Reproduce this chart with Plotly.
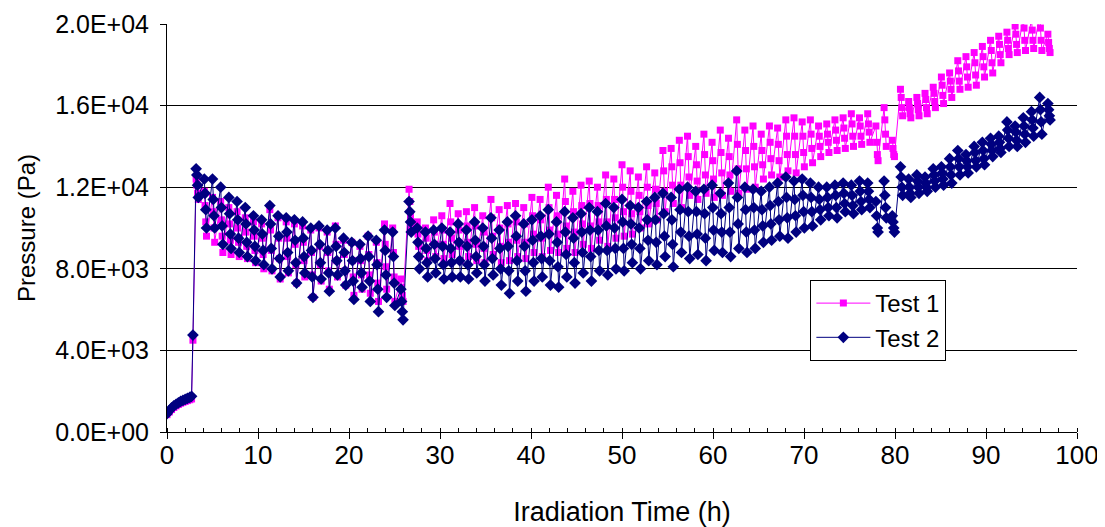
import numpy as np
import plotly.graph_objects as go

# start-up phase (h, kPa)
startup_t = [0.0, 0.25, 0.5, 0.75, 1.0, 1.25, 1.5, 1.75, 2.0, 2.25, 2.5, 2.7, 2.85]
startup_test1 = [0.85, 0.98, 1.10, 1.20, 1.28, 1.35, 1.41, 1.46, 1.50, 1.54, 1.58, 1.62, 4.5]
startup_test2 = [0.90, 1.05, 1.18, 1.28, 1.36, 1.43, 1.50, 1.55, 1.60, 1.65, 1.70, 1.75, 4.75]

# cycling phase: one pressure cycle every 0.9 h, 4 readings per cycle (kPa)
cycle_start = 3.2
cycle_len = 0.9
reading_offsets = [0.0, 0.08, 0.16, 0.24]

test1_cycles = [
    12.4, 12.1, 11.7, 11.4,  11.8, 11.1, 10.3, 9.6,  11.5, 10.8, 10.0, 9.3,
    11.3, 10.4, 9.6, 8.8,  11.0, 10.2, 9.4, 8.7,  10.8, 10.0, 9.3, 8.6,
    10.5, 9.8, 9.1, 8.5,  10.3, 9.6, 8.9, 8.3,  10.2, 9.5, 8.7, 8.0,
    10.9, 9.9, 8.9, 7.9,  10.5, 9.5, 8.5, 7.5,  10.3, 9.5, 8.6, 7.8,
    10.2, 9.2, 8.2, 7.3,  10.1, 9.3, 8.4, 7.6,  9.9, 8.8, 7.7, 6.6,
    10.0, 9.1, 8.2, 7.4,  9.8, 8.8, 7.9, 7.0,  10.1, 9.2, 8.4, 7.6,
    9.4, 8.7, 7.9, 7.2,  9.3, 8.4, 7.6, 6.7,  9.1, 8.4, 7.7, 7.0,
    9.6, 8.7, 7.7, 6.8,  9.3, 8.3, 7.3, 6.4,  10.2, 9.2, 8.1, 7.0,
    10.0, 8.8, 7.6, 6.4,  7.5, 7.1, 6.7, 6.4,  11.9, 11.3, 10.6, 10.0,
    10.3, 9.7, 9.1, 8.6,  10.0, 9.5, 8.9, 8.4,  10.4, 9.8, 9.2, 8.6,
    10.6, 9.9, 9.2, 8.5,  11.2, 10.3, 9.5, 8.7,  10.7, 9.9, 9.1, 8.4,
    10.8, 10.1, 9.3, 8.6,  11.0, 10.1, 9.2, 8.4,  10.6, 9.8, 9.0, 8.3,
    11.4, 10.5, 9.6, 8.7,  10.9, 10.0, 9.1, 8.3,  11.1, 10.2, 9.3, 8.4,
    11.2, 10.3, 9.4, 8.6,  11.0, 10.2, 9.3, 8.5,  11.5, 10.6, 9.7, 8.8,
    11.4, 10.4, 9.5, 8.6,  12.0, 11.0, 9.9, 8.9,  11.6, 10.6, 9.7, 8.8,
    12.4, 11.3, 10.1, 9.0,  11.8, 10.8, 9.8, 8.8,  12.1, 11.1, 10.2, 9.2,
    12.3, 11.2, 10.1, 9.0,  12.0, 11.1, 10.3, 9.4,  12.6, 11.4, 10.3, 9.1,
    12.4, 11.4, 10.5, 9.5,  13.1, 12.0, 10.8, 9.6,  12.8, 11.8, 10.7, 9.7,
    12.5, 11.6, 10.8, 10.0,  13.0, 12.0, 11.1, 10.2,  12.7, 11.9, 11.2, 10.4,
    13.8, 12.8, 11.8, 10.8,  13.9, 13.0, 12.1, 11.2,  14.3, 13.2, 12.1, 11.0,
    14.5, 13.5, 12.5, 11.6,  14.0, 13.1, 12.3, 11.4,  14.6, 13.6, 12.6, 11.7,
    14.2, 13.3, 12.4, 11.5,  14.8, 13.7, 12.7, 11.6,  14.4, 13.5, 12.6, 11.8,
    15.3, 14.1, 12.9, 11.7,  14.8, 13.8, 12.9, 11.9,  15.0, 14.0, 13.0, 12.0,
    14.6, 13.8, 13.1, 12.4,  15.0, 14.2, 13.4, 12.6,  14.9, 14.1, 13.3, 12.5,
    15.3, 14.5, 13.6, 12.8,  15.4, 14.5, 13.6, 12.7,  15.2, 14.5, 13.7, 13.0,
    15.3, 14.6, 13.9, 13.2,  15.0, 14.5, 14.0, 13.5,  15.1, 14.6, 14.2, 13.7,
    15.3, 14.8, 14.3, 13.8,  15.4, 14.9, 14.4, 13.9,  15.6, 15.1, 14.5, 14.0,
    15.4, 15.0, 14.5, 14.1,  15.6, 15.1, 14.7, 14.2,  15.0, 14.2, 13.6, 13.3,
    15.9, 15.3, 14.6, 14.0,  14.3, 13.9, 13.6, 13.5,  16.8, 16.4, 15.9, 15.5,
    16.2, 15.9, 15.6, 15.4,  16.4, 16.1, 15.8, 15.5,  16.6, 16.3, 15.9, 15.6,
    16.9, 16.6, 16.2, 15.9,  17.4, 17.0, 16.5, 16.1,  17.6, 17.2, 16.8, 16.4,
    18.2, 17.7, 17.2, 16.8,  18.4, 17.9, 17.4, 16.9,  18.6, 18.1, 17.5, 17.0,
    18.9, 18.4, 17.9, 17.4,  19.2, 18.7, 18.1, 17.6,  19.4, 19.0, 18.5, 18.1,
    19.6, 19.2, 18.8, 18.5,  19.9, 19.5, 19.0, 18.6,  20.3, 19.8, 19.2, 18.7,
    20.2, 19.7, 19.2, 18.8,  20.4, 19.8, 19.2, 18.7,  19.5, 19.1, 18.8, 18.6,
]

test2_cycles = [
    12.9, 12.6, 12.1, 11.5,  12.4, 11.7, 10.9, 10.0,  12.4, 11.4, 10.6, 10.0,
    12.0, 11.0, 10.1, 9.2,  11.5, 10.7, 9.7, 9.0,  11.3, 10.4, 9.5, 8.8,
    11.0, 10.2, 9.3, 8.6,  10.6, 9.9, 9.1, 8.4,  10.4, 9.7, 8.9, 8.2,
    11.1, 10.2, 9.0, 8.0,  10.6, 9.6, 8.5, 7.6,  10.5, 9.8, 8.8, 7.9,
    10.4, 9.4, 8.3, 7.3,  10.3, 9.5, 8.6, 7.8,  10.0, 8.9, 7.6, 6.6,
    10.1, 9.2, 8.3, 7.5,  9.9, 8.9, 7.8, 6.9,  10.0, 9.1, 8.4, 7.7,
    9.5, 8.8, 7.9, 7.2,  9.3, 8.4, 7.4, 6.5,  9.2, 8.5, 7.8, 7.1,
    9.6, 8.6, 7.4, 6.4,  9.4, 8.2, 7.0, 5.9,  9.9, 8.9, 7.7, 6.6,
    9.8, 8.6, 7.3, 6.2,  7.0, 6.4, 5.9, 5.5,  11.3, 10.8, 10.3, 9.8,
    10.0, 9.3, 8.6, 8.0,  9.8, 9.0, 8.3, 7.6,  9.9, 9.2, 8.5, 7.8,
    10.0, 9.1, 8.2, 7.5,  9.8, 9.0, 8.3, 7.6,  10.2, 9.3, 8.4, 7.6,
    9.9, 9.1, 8.2, 7.5,  10.3, 9.4, 8.6, 7.8,  10.0, 9.1, 8.2, 7.4,
    10.5, 9.5, 8.5, 7.7,  9.9, 9.0, 8.0, 7.2,  10.3, 9.1, 7.9, 6.8,
    10.6, 9.6, 8.4, 7.4,  10.2, 9.1, 7.9, 6.9,  10.4, 9.4, 8.3, 7.4,
    10.6, 9.6, 8.5, 7.6,  10.9, 9.7, 8.4, 7.2,  10.3, 9.3, 8.1, 7.1,
    10.8, 9.8, 8.7, 7.6,  10.5, 9.5, 8.3, 7.3,  10.7, 9.8, 8.8, 7.8,
    11.0, 9.9, 8.6, 7.4,  10.8, 9.9, 8.9, 7.9,  11.2, 10.1, 8.9, 7.7,
    11.0, 10.0, 9.0, 8.0,  11.4, 10.3, 9.0, 7.9,  11.1, 10.2, 9.2, 8.3,
    11.0, 10.0, 9.0, 8.0,  11.3, 10.4, 9.4, 8.4,  11.5, 10.4, 9.3, 8.2,
    11.7, 10.7, 9.6, 8.6,  11.5, 10.4, 9.2, 8.1,  11.9, 10.9, 9.8, 8.8,
    12.0, 10.8, 9.6, 8.5,  11.8, 10.8, 9.7, 8.7,  11.9, 10.7, 9.5, 8.4,
    12.1, 11.0, 9.9, 8.9,  11.7, 10.7, 9.8, 8.8,  12.2, 11.0, 9.8, 8.6,
    12.8, 11.5, 10.2, 9.0,  12.0, 10.9, 9.8, 8.8,  11.9, 11.0, 9.9, 9.0,
    11.8, 10.9, 10.1, 9.3,  12.0, 11.1, 10.2, 9.4,  12.2, 11.3, 10.4, 9.6,
    12.5, 11.5, 10.5, 9.5,  12.3, 11.4, 10.6, 9.8,  12.4, 11.6, 10.8, 10.0,
    12.2, 11.5, 10.8, 10.1,  12.0, 11.4, 10.9, 10.4,  12.0, 11.5, 11.0, 10.6,
    12.1, 11.6, 11.0, 10.5,  12.2, 11.7, 11.2, 10.8,  12.1, 11.6, 11.1, 10.7,
    12.3, 11.8, 11.3, 10.9,  12.2, 11.8, 11.4, 11.0,  11.3, 10.6, 10.0, 9.8,
    12.3, 11.6, 11.0, 10.5,  10.6, 10.3, 10.0, 9.8,  13.0, 12.5, 12.0, 11.6,
    12.4, 12.0, 11.7, 11.5,  12.6, 12.3, 12.0, 11.7,  12.5, 12.2, 12.0, 11.8,
    12.9, 12.6, 12.3, 12.0,  13.0, 12.7, 12.4, 12.1,  13.4, 13.0, 12.6, 12.2,
    13.8, 13.4, 13.0, 12.6,  13.6, 13.3, 13.0, 12.7,  14.0, 13.7, 13.3, 13.0,
    14.2, 13.8, 13.4, 13.1,  14.4, 14.1, 13.8, 13.5,  14.5, 14.2, 13.9, 13.7,
    15.2, 14.8, 14.4, 14.0,  15.0, 14.7, 14.3, 14.0,  15.4, 15.0, 14.6, 14.2,
    15.7, 15.3, 14.9, 14.5,  16.4, 15.8, 15.2, 14.6,  16.1, 15.8, 15.5, 15.3,
]

y_tickvals = [0, 4000, 8000, 12000, 16000, 20000]
y_ticktext = ["0.0E+00", "4.0E+03", "8.0E+03", "1.2E+04", "1.6E+04", "2.0E+04"]

# build time axis for the cycling readings
n_cycles = len(test1_cycles) // len(reading_offsets)
cycle_t = [round(cycle_start + k * cycle_len + off, 3)
           for k in range(n_cycles) for off in reading_offsets]

t_all = startup_t + cycle_t
p1 = np.array(startup_test1 + test1_cycles) * 1000  # kPa -> Pa
p2 = np.array(startup_test2 + test2_cycles) * 1000

FONT = "Arial, Liberation Sans, sans-serif"

fig = go.Figure()
fig.add_trace(go.Scatter(
    x=t_all, y=p1, mode="lines+markers", name="Test 1",
    line=dict(color="#FF00FF", width=1),
    marker=dict(symbol="square", size=7, color="#FF00FF"),
))
fig.add_trace(go.Scatter(
    x=t_all, y=p2, mode="lines+markers", name="Test 2",
    line=dict(color="#000080", width=1),
    marker=dict(symbol="diamond", size=9, color="#000080"),
))

# page body adds an 8px offset, so the figure is sized to fit the window
fig.update_layout(
    width=1097, height=519,
    paper_bgcolor="white", plot_bgcolor="white",
    margin=dict(l=159, r=28, t=16, b=95),
    font=dict(family=FONT, color="black", size=24),
    showlegend=True,
    legend=dict(
        x=0.707, y=0.3725, xanchor="left", yanchor="top",
        bgcolor="white", bordercolor="black", borderwidth=1,
        font=dict(size=24), tracegroupgap=0, itemwidth=54,
    ),
)
fig.update_xaxes(
    range=[0, 100], dtick=10, tick0=0, automargin=False,
    showline=True, linecolor="black", linewidth=1,
    ticks="outside", ticklen=6, tickcolor="black",
    minor=dict(dtick=2, ticks="inside", ticklen=4, tickcolor="black"),
    showgrid=False, zeroline=False,
    tickfont=dict(size=26), ticklabelstandoff=-6,
    title=dict(text="Iradiation Time (h)", font=dict(size=27), standoff=34),
)
fig.update_yaxes(
    range=[0, 20000], tickvals=y_tickvals, ticktext=y_ticktext, automargin=False,
    showline=True, linecolor="black", linewidth=1,
    ticks="outside", ticklen=6, tickcolor="black",
    showgrid=True, gridcolor="black", gridwidth=1, zeroline=False,
    tickfont=dict(size=25), ticklabelstandoff=6,
    title=dict(text="Pressure (Pa)", font=dict(size=24), standoff=12),
)

fig.write_html("out.html")
